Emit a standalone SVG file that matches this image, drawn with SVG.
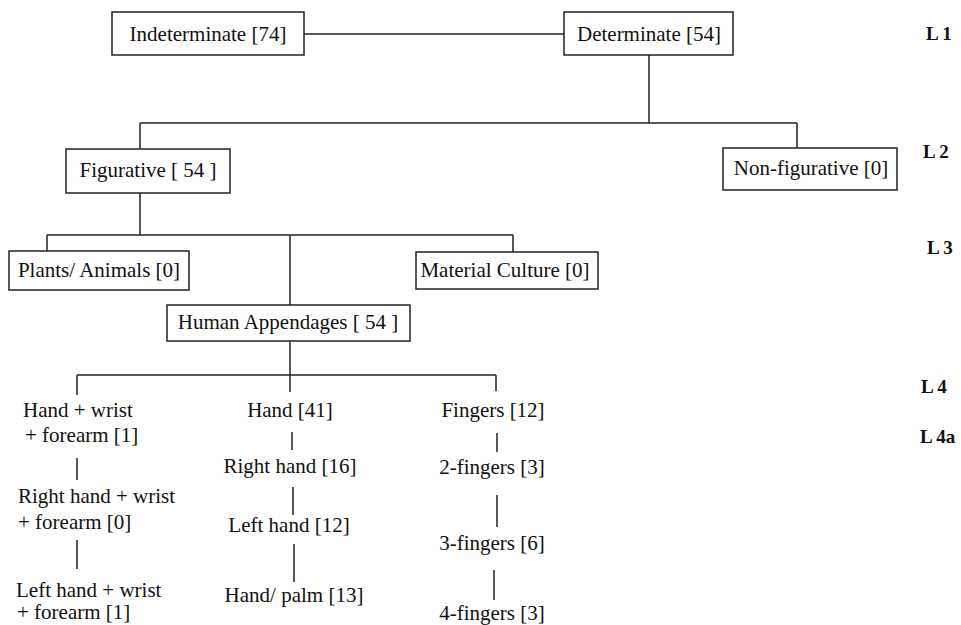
<svg xmlns="http://www.w3.org/2000/svg" width="961" height="625" viewBox="0 0 961 625">
<style>
.box{fill:#fff;stroke:#222;stroke-width:1.5}
.t{font-family:"Liberation Serif","Times New Roman",serif;font-size:21px;fill:#111;text-anchor:middle}
.tl{font-family:"Liberation Serif","Times New Roman",serif;font-size:21px;fill:#111}
.lv{font-family:"Liberation Serif","Times New Roman",serif;font-size:19px;font-weight:bold;fill:#111}
.c{stroke:#222;stroke-width:1.5;fill:none}
</style>
<rect width="961" height="625" fill="#fff"/>
<g id="connectors">
<path class="c" d="M304 34H564"/>
<path class="c" d="M649 55V123M140 123H797M140 123V149M797 123V148"/>
<path class="c" d="M140 193V235M47 235H513M47 235V251M513 235V252M290 235V305"/>
<path class="c" d="M290 341V375M77 375H496M77 375V395M290 375V392M496 375V391"/>
<path class="c" d="M77 458V480M77 540V569"/>
<path class="c" d="M292 432V450M293 487V515M294 544V582"/>
<path class="c" d="M497 433V452M497 495V527M494 570V600"/>
</g>
<g id="indeterminate"><rect class="box" x="112" y="12" width="192" height="43"/><text class="t" x="208" y="41">Indeterminate [74]</text></g>
<g id="determinate"><rect class="box" x="564" y="12" width="169" height="43"/><text class="t" x="649" y="41">Determinate [54]</text></g>
<g id="figurative"><rect class="box" x="66" y="149" width="164" height="44"/><text class="t" x="148" y="177">Figurative [ 54 ]</text></g>
<g id="nonfigurative"><rect class="box" x="723" y="148" width="174" height="42"/><text class="t" x="811" y="175">Non-figurative [0]</text></g>
<g id="plants"><rect class="box" x="9" y="251" width="180" height="39"/><text class="t" x="99" y="277">Plants/ Animals [0]</text></g>
<g id="material"><rect class="box" x="416" y="252" width="182" height="37"/><text class="t" x="505" y="277">Material Culture [0]</text></g>
<g id="human"><rect class="box" x="167" y="305" width="243" height="36"/><text class="t" x="288" y="329">Human Appendages [ 54 ]</text></g>
<g id="handwrist"><text class="tl" x="23" y="417">Hand + wrist</text><text class="tl" x="25" y="442">+ forearm [1]</text></g>
<g id="hand"><text class="t" x="290" y="417">Hand [41]</text></g>
<g id="fingers"><text class="t" x="493" y="417">Fingers [12]</text></g>
<g id="righthandwrist"><text class="tl" x="18" y="503">Right hand + wrist</text><text class="tl" x="18" y="529">+ forearm [0]</text></g>
<g id="lefthandwrist"><text class="tl" x="16" y="597">Left hand + wrist</text><text class="tl" x="17" y="619">+ forearm [1]</text></g>
<g id="righthand"><text class="t" x="290" y="473">Right hand [16]</text></g>
<g id="lefthand"><text class="t" x="289" y="532">Left hand [12]</text></g>
<g id="handpalm"><text class="t" x="294" y="602">Hand/ palm [13]</text></g>
<g id="f2"><text class="t" x="492" y="474">2-fingers [3]</text></g>
<g id="f3"><text class="t" x="492" y="550">3-fingers [6]</text></g>
<g id="f4"><text class="t" x="492" y="620">4-fingers [3]</text></g>
<g id="levels">
<text class="lv" x="926" y="40">L 1</text>
<text class="lv" x="923" y="158">L 2</text>
<text class="lv" x="927" y="254">L 3</text>
<text class="lv" x="921" y="393">L 4</text>
<text class="lv" x="920" y="443">L 4a</text>
</g>
</svg>
